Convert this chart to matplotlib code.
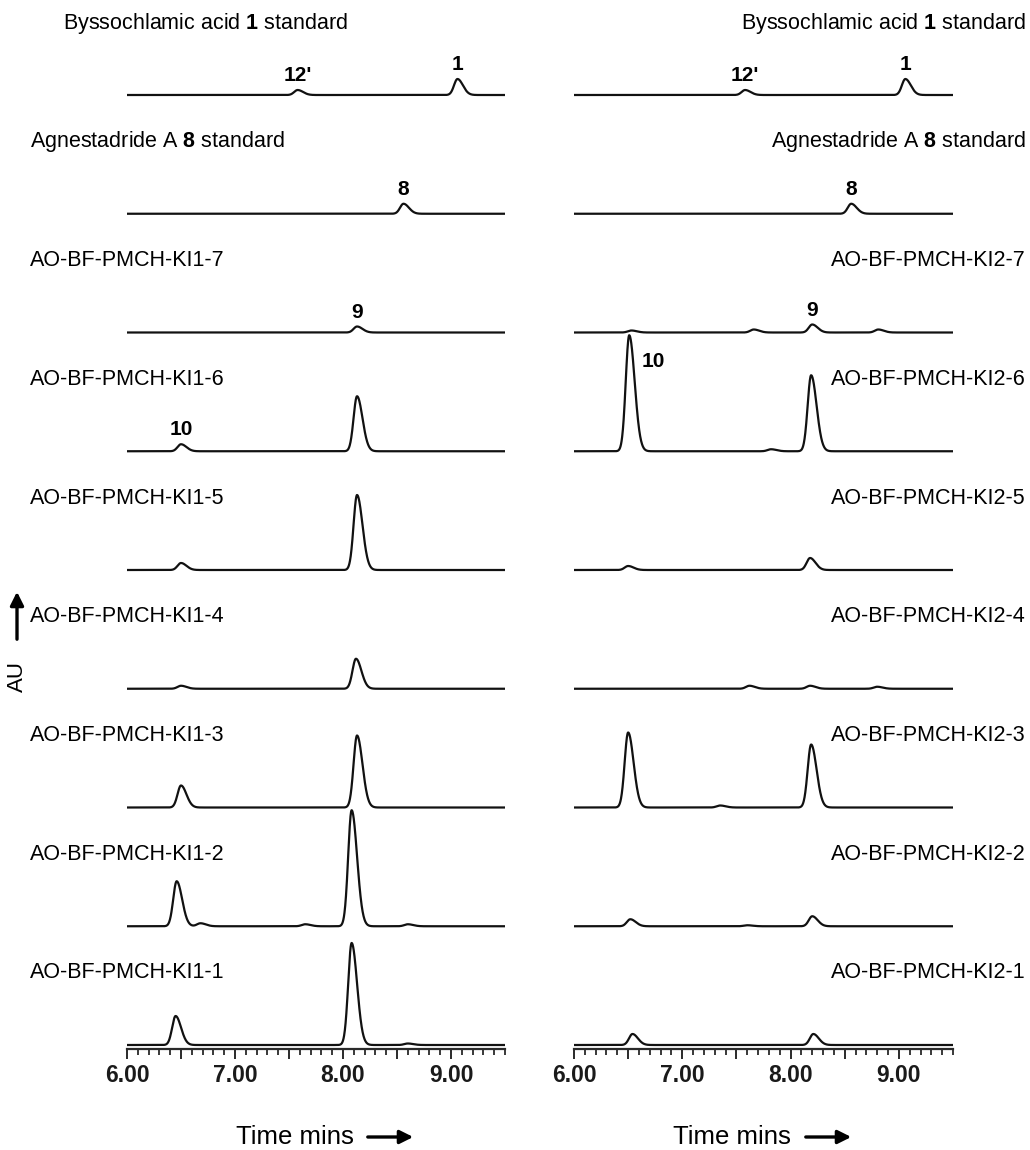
import numpy as np
import matplotlib
matplotlib.use("Agg")
import matplotlib.pyplot as plt
from matplotlib.ticker import FixedLocator, MultipleLocator, FuncFormatter

plt.rcParams['font.family'] = ['Liberation Sans', 'DejaVu Sans']
plt.rcParams['mathtext.fontset'] = 'custom'
plt.rcParams['mathtext.rm'] = 'Liberation Sans'
plt.rcParams['mathtext.bf'] = 'Liberation Sans:bold'

# --- data (retention time in min, peak height in AU-ish units) ---
labels_left = [r"Byssochlamic acid $\mathbf{1}$ standard", r"Agnestadride A $\mathbf{8}$ standard",
               "AO-BF-PMCH-KI1-7", "AO-BF-PMCH-KI1-6", "AO-BF-PMCH-KI1-5", "AO-BF-PMCH-KI1-4",
               "AO-BF-PMCH-KI1-3", "AO-BF-PMCH-KI1-2", "AO-BF-PMCH-KI1-1"]
labels_right = [r"Byssochlamic acid $\mathbf{1}$ standard", r"Agnestadride A $\mathbf{8}$ standard",
                "AO-BF-PMCH-KI2-7", "AO-BF-PMCH-KI2-6", "AO-BF-PMCH-KI2-5", "AO-BF-PMCH-KI2-4",
                "AO-BF-PMCH-KI2-3", "AO-BF-PMCH-KI2-2", "AO-BF-PMCH-KI2-1"]

rt_left = [[7.58, 9.06], [8.56], [8.13], [6.50, 8.13], [6.50, 8.13], [6.50, 8.12],
           [6.50, 8.13], [6.46, 6.68, 7.65, 8.08, 8.60], [6.45, 8.08, 8.60]]
h_left = [[5, 16], [10], [6], [7, 55], [7, 75], [3, 30],
          [22, 72], [45, 3, 2, 116, 2], [29, 102, 1.5]]

rt_right = [[7.58, 9.06], [8.56], [6.53, 7.66, 8.20, 8.81], [6.51, 7.82, 8.19], [6.50, 8.18],
            [7.62, 8.18, 8.80], [6.50, 7.35, 8.19], [6.52, 7.60, 8.20], [6.54, 8.21]]
h_right = [[5, 16], [10], [2, 3, 8, 3], [116, 2, 76], [4, 12],
           [3, 3, 2], [75, 2, 63], [7, 1, 10], [11, 11]]

# peak annotations: (row, retention time, text)
marks_left = [(0, 7.58, "12'"), (0, 9.06, "1"), (1, 8.56, "8"), (2, 8.13, "9"), (3, 6.50, "10")]
marks_right = [(0, 7.58, "12'"), (0, 9.06, "1"), (1, 8.56, "8"), (2, 8.20, "9")]

W, H = 1030, 1150
ROW = 118.75
AXIS_Y = 1049  # axis line, px from top


def trace(t, rts, hs):
    y = np.zeros_like(t)
    for r, h in zip(rts, hs):
        s = np.where(t < r, 0.032, 0.05)
        y += h * np.exp(-0.5 * ((t - r) / s) ** 2)
    return y


fig = plt.figure(figsize=(W / 100, H / 100), dpi=100)
t = np.linspace(6.0, 9.5, 2000)


def panel(x0, x1, labels, rts, hs, marks, right):
    ax = fig.add_axes([x0 / W, (H - AXIS_Y) / H, (x1 - x0) / W, AXIS_Y / H])
    ax.set_xlim(6.0, 9.5)
    ax.set_ylim(0, AXIS_Y)
    for s in ['top', 'left', 'right']:
        ax.spines[s].set_visible(False)
    ax.spines['bottom'].set_linewidth(1.6)
    ax.spines['bottom'].set_color('#2a2a2a')
    ax.set_yticks([])
    ax.xaxis.set_major_locator(FixedLocator(np.arange(6.0, 9.01, 0.5)))
    ax.xaxis.set_minor_locator(MultipleLocator(0.1))
    ax.xaxis.set_major_formatter(FuncFormatter(lambda v, p: "%.2f" % v if abs(v - round(v)) < 1e-6 else ""))
    ax.tick_params(axis='x', which='major', length=7.5, width=1.4, color='#2a2a2a', pad=3,
                   labelsize=16.5, labelcolor='#1a1a1a')
    ax.tick_params(axis='x', which='minor', length=4.5, width=1.3, color='#2a2a2a')
    for lab in ax.get_xticklabels():
        lab.set_fontweight('bold')

    for i in range(9):
        base = (8 - i) * ROW + 4
        ax.plot(t, base + trace(t, rts[i], hs[i]), color='#111111', lw=1.6)
        ytop = (AXIS_Y - base - 72)
        if right:
            fig.text(1026 / W, 1 - ytop / H, labels[i], ha='right', va='center', fontsize=15.5)
        else:
            xl = 63 if i == 0 else 30
            fig.text(xl / W, 1 - ytop / H, labels[i], ha='left', va='center', fontsize=15.5)

    for row, r, txt in marks:
        base = (8 - row) * ROW + 4
        peak = base + trace(np.array([r]), rts[row], hs[row])[0]
        ax.text(r, peak + 5, txt, ha='center', va='bottom', fontsize=15, fontweight='bold')
    return ax


axl = panel(127, 505, labels_left, rt_left, h_left, marks_left, False)
axr = panel(574, 953, labels_right, rt_right, h_right, marks_right, True)

# label for compound 10 next to the big peak on the right
base3 = 5 * ROW + 4
top10 = base3 + trace(np.array([6.51]), rt_right[3], h_right[3])[0]
axr.text(6.62, top10 - 26, "10", ha='left', va='center', fontsize=15, fontweight='bold')

# x-axis titles with arrows
for cx, a0, a1 in [(295, 365, 416), (732, 803, 854)]:
    fig.text(cx / W, 13 / H, "Time mins", ha='center', va='center', fontsize=18.5)
    fig.add_artist(matplotlib.patches.FancyArrowPatch(
        (a0 / W, 13 / H), (a1 / W, 13 / H), transform=fig.transFigure,
        arrowstyle='-|>', mutation_scale=20, lw=2.4, color='black'))

# AU label with upward arrow
fig.text(17 / W, (H - 677) / H, "AU", rotation=90, ha='center', va='center', fontsize=16)
fig.add_artist(matplotlib.patches.FancyArrowPatch(
    (17 / W, (H - 642) / H), (17 / W, (H - 589) / H), transform=fig.transFigure,
    arrowstyle='-|>', mutation_scale=20, lw=2.4, color='black'))

fig.savefig("out.png", dpi=100)
